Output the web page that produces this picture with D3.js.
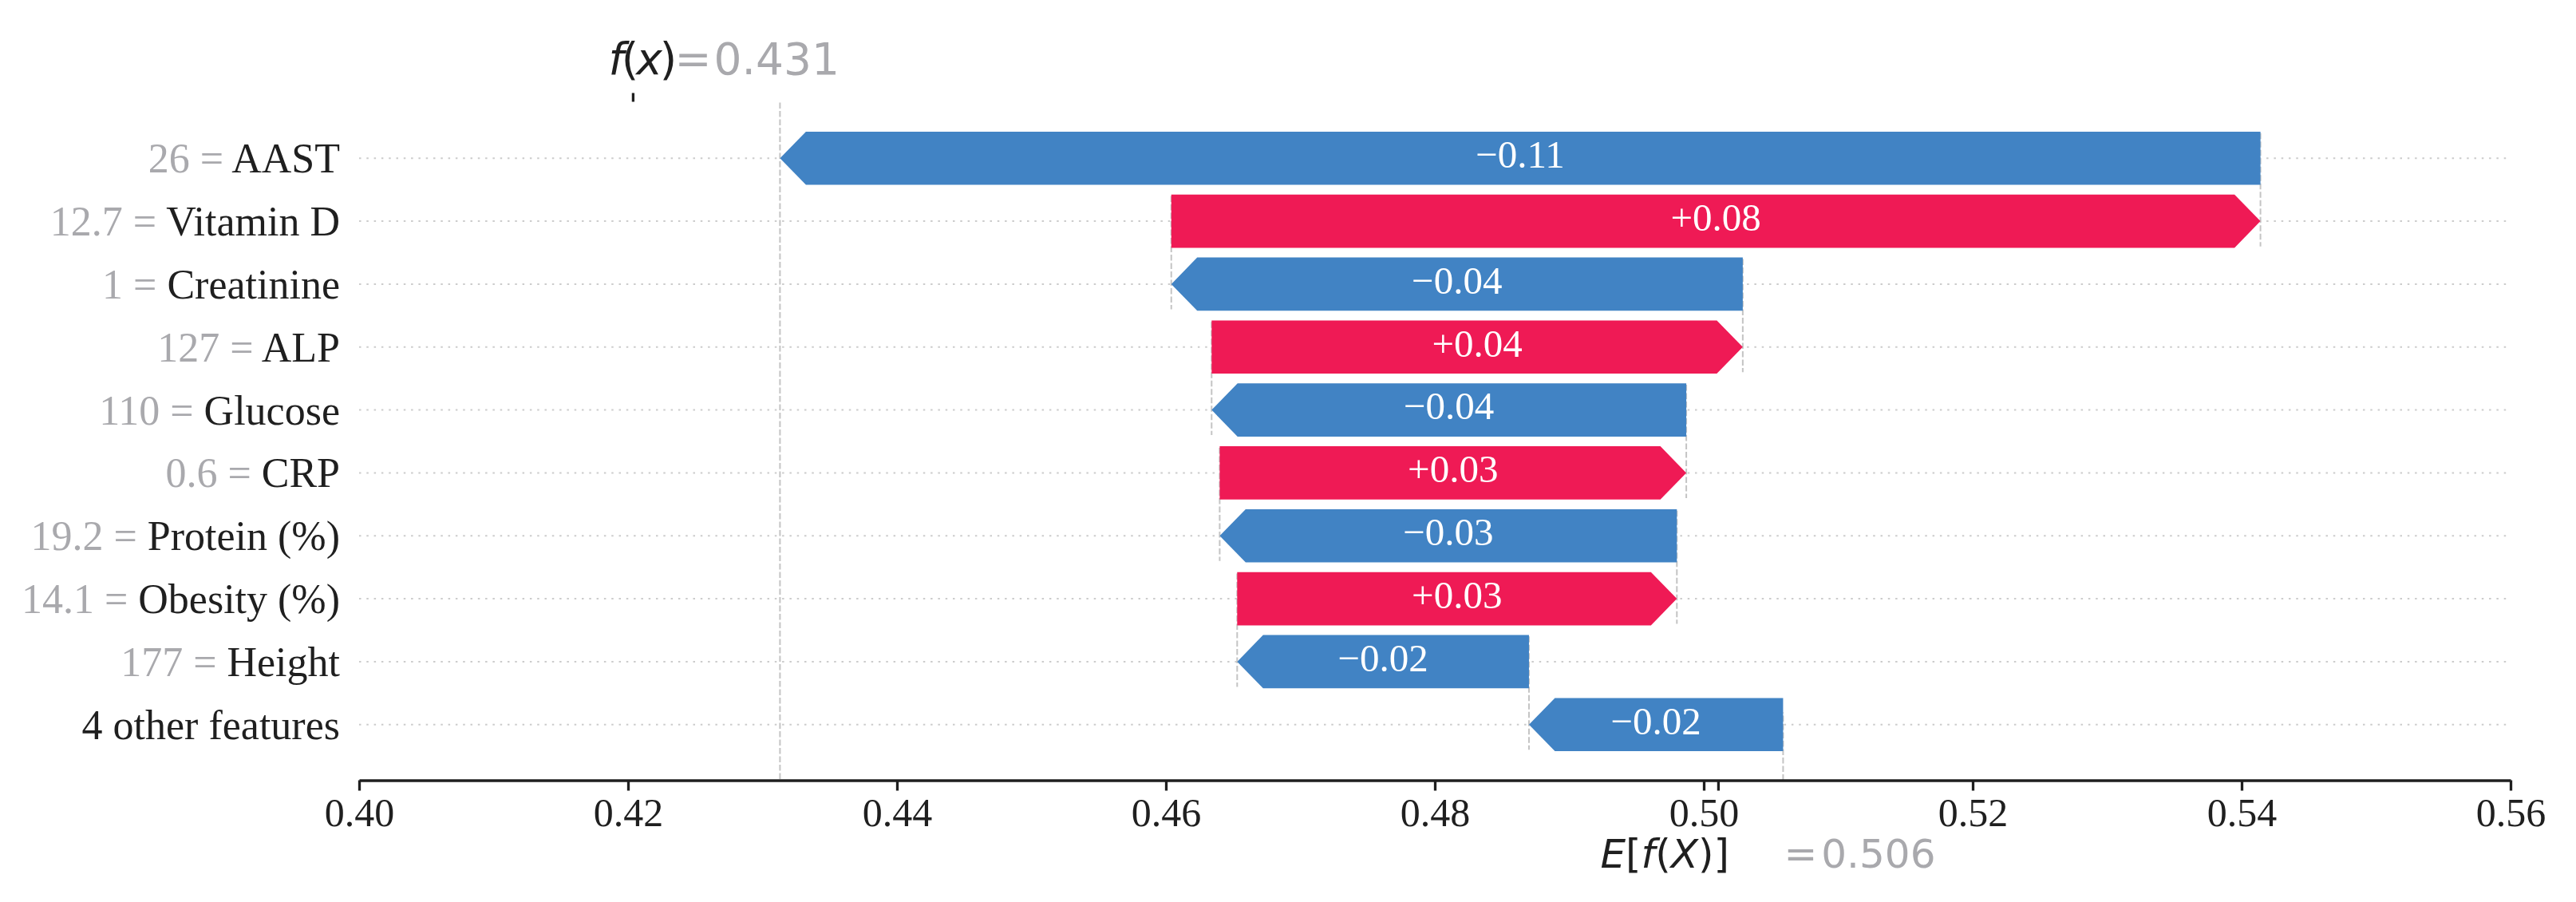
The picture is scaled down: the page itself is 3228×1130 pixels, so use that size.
<!DOCTYPE html>
<html>
<head>
<meta charset="utf-8">
<script src="https://cdn.jsdelivr.net/npm/d3@7"></script>
<style>
  html, body { margin: 0; padding: 0; background: #ffffff; }
  svg { display: block; }
</style>
</head>
<body>
<svg id="chart" width="3228" height="1130"></svg>
<script>
// ---------------- data (top to bottom) ----------------
const featureNames  = ["AAST", "Vitamin D", "Creatinine", "ALP", "Glucose", "CRP", "Protein (%)", "Obesity (%)", "Height", "4 other features"];
const featureValues = ["26", "12.7", "1", "127", "110", "0.6", "19.2", "14.1", "177", null];
const shapValues    = [-0.1101, 0.0810, -0.0425, 0.0395, -0.0353, 0.0347, -0.0340, 0.0327, -0.0217, -0.0189];
const baseValue = 0.5059;   // E[f(X)]
const fxValue   = 0.4313;   // f(x)
const baseLabel = "0.506";
const fxLabel   = "0.431";
const xTickValues = [0.40, 0.42, 0.44, 0.46, 0.48, 0.50, 0.52, 0.54, 0.56];

// ---------------- style ----------------
const BLUE = "#4183c4", RED = "#ef1a55";
const GRAY = "#a9a9ad", INK = "#1f1f1f";
const SERIF = "'Liberation Serif', 'Times New Roman', serif";
const SANS  = "'DejaVu Sans', sans-serif";

const svg = d3.select("#chart");
const W = 3228, H = 1130;
svg.append("rect").attr("width", W).attr("height", H).attr("fill", "#fff");

const plotLeft = 450, plotRight = 3146, plotTop = 128.5, plotBottom = 977.5;
const n = featureNames.length;

const x = d3.scaleLinear().domain([0.40, 0.56]).range([plotLeft, plotRight]);
const y = d3.scaleLinear().domain([-0.885, n - 1 + 0.885]).range([plotTop, plotBottom]);
const rowStep = y(1) - y(0);
const barHalf = 0.423 * rowStep;
const headLen = 32.5;

// cumulative positions: bottom row starts at base value
const rows = [];
let pos = baseValue;
for (let i = n - 1; i >= 0; i--) {
  const start = pos, end = pos + shapValues[i];
  rows[i] = { i, name: featureNames[i], val: featureValues[i], shap: shapValues[i], start, end };
  pos = end;
}

// ---------------- background guide lines ----------------
const gGuides = svg.append("g");
gGuides.selectAll("line.h").data(rows).join("line")
  .attr("x1", plotLeft).attr("x2", plotRight)
  .attr("y1", d => y(d.i)).attr("y2", d => y(d.i))
  .attr("stroke", "#cccccc").attr("stroke-width", 2)
  .attr("stroke-dasharray", "2.5 6.8");

// connectors between consecutive rows
const connectors = rows.slice(0, n - 1).map(d => ({ xv: d.start, yTop: d.i - 0.4, yBot: d.i + 1 + 0.4 }));
gGuides.selectAll("line.c").data(connectors).join("line")
  .attr("x1", d => x(d.xv)).attr("x2", d => x(d.xv))
  .attr("y1", d => y(d.yTop)).attr("y2", d => y(d.yBot))
  .attr("stroke", "#c4c4c4").attr("stroke-width", 2)
  .attr("stroke-dasharray", "7.5 3");

// f(x) full-height line and E[f(X)] short line
gGuides.append("line")
  .attr("x1", x(fxValue)).attr("x2", x(fxValue))
  .attr("y1", plotTop).attr("y2", plotBottom)
  .attr("stroke", "#c4c4c4").attr("stroke-width", 2).attr("stroke-dasharray", "7.5 3");
gGuides.append("line")
  .attr("x1", x(baseValue)).attr("x2", x(baseValue))
  .attr("y1", plotBottom).attr("y2", plotBottom - (plotBottom - plotTop) / n)
  .attr("stroke", "#c4c4c4").attr("stroke-width", 2).attr("stroke-dasharray", "7.5 3");

// ---------------- bars (arrows) ----------------
function arrowPath(d) {
  const xs = x(d.start), xe = x(d.end), yc = y(d.i);
  const dir = d.shap >= 0 ? 1 : -1;
  const len = Math.abs(xe - xs);
  const hl = Math.min(headLen, len);
  const xh = xe - dir * hl;
  return `M${xs},${yc - barHalf}L${xh},${yc - barHalf}L${xe},${yc}L${xh},${yc + barHalf}L${xs},${yc + barHalf}Z`;
}
const gBars = svg.append("g");
gBars.selectAll("path").data(rows).join("path")
  .attr("d", arrowPath)
  .attr("fill", d => d.shap >= 0 ? RED : BLUE);

const fmtShap = v => (v >= 0 ? "+" : "\u2212") + Math.abs(v).toFixed(2);
gBars.selectAll("text").data(rows).join("text")
  .attr("x", d => (x(d.start) + x(d.end)) / 2)
  .attr("y", d => y(d.i) + 11.8)
  .attr("text-anchor", "middle")
  .attr("font-family", SERIF).attr("font-size", 49)
  .attr("fill", "#ffffff")
  .text(d => fmtShap(d.shap));

// ---------------- y labels ----------------
const gY = svg.append("g");
const yl = gY.selectAll("text").data(rows).join("text")
  .attr("x", 426).attr("y", d => y(d.i) + 18)
  .attr("text-anchor", "end")
  .attr("font-family", SERIF).attr("font-size", 52);
yl.filter(d => d.val !== null).append("tspan").attr("fill", GRAY).text(d => d.val + " = ");
yl.append("tspan").attr("fill", INK).text(d => d.name);

// ---------------- bottom axis ----------------
const xAxis = d3.axisBottom(x).tickValues(xTickValues).tickFormat(d3.format(".2f")).tickSize(13).tickSizeOuter(0);
const gX = svg.append("g").attr("transform", `translate(0,${plotBottom})`).call(xAxis);
gX.select(".domain").attr("stroke", INK).attr("stroke-width", 3.3);
gX.selectAll(".tick line").attr("stroke", INK).attr("stroke-width", 3.3);
gX.selectAll(".tick text")
  .attr("fill", INK).attr("font-family", SERIF).attr("font-size", 50)
  .attr("y", 57.5).attr("dy", null);

// extra (offset) tick of the E[f(X)] twin axis
const eTickX = x(baseValue) - 81;
svg.append("line").attr("x1", eTickX).attr("x2", eTickX)
  .attr("y1", plotBottom).attr("y2", plotBottom + 13)
  .attr("stroke", INK).attr("stroke-width", 3.3);

// E[f(X)] label
const eText = svg.append("text").attr("x", eTickX - 148).attr("y", 1087)
  .attr("font-family", SANS).attr("font-size", 50).attr("fill", INK);
eText.append("tspan").attr("font-style", "italic").text("E");
eText.append("tspan").text("[");
eText.append("tspan").attr("font-style", "italic").text("f");
eText.append("tspan").text("(");
eText.append("tspan").attr("font-style", "italic").text("X");
eText.append("tspan").text(")]");
const eVal = svg.append("text").attr("x", eTickX + 82).attr("y", 1087)
  .attr("font-family", SANS).attr("font-size", 50).attr("fill", GRAY);
eVal.append("tspan").text("=");
eVal.append("tspan").attr("dx", 5).text(baseLabel);

// ---------------- top twin axis: f(x) ----------------
const fTickX = x(fxValue) - 184;
svg.append("line").attr("x1", fTickX).attr("x2", fTickX)
  .attr("y1", plotTop - 12).attr("y2", plotTop - 1)
  .attr("stroke", INK).attr("stroke-width", 3.3);
const fText = svg.append("text").attr("x", fTickX - 31).attr("y", 92.5)
  .attr("font-family", SANS).attr("font-size", 55).attr("fill", INK)
  .attr("letter-spacing", -3);
fText.append("tspan").attr("font-style", "italic").text("f");
fText.append("tspan").text("(");
fText.append("tspan").attr("font-style", "italic").text("x");
fText.append("tspan").text(")");
const fVal = svg.append("text").attr("x", fTickX + 52).attr("y", 93)
  .attr("font-family", SANS).attr("font-size", 55).attr("fill", GRAY);
fVal.append("tspan").text("=");
fVal.append("tspan").attr("dx", 3).text(fxLabel);
</script>
</body>
</html>
